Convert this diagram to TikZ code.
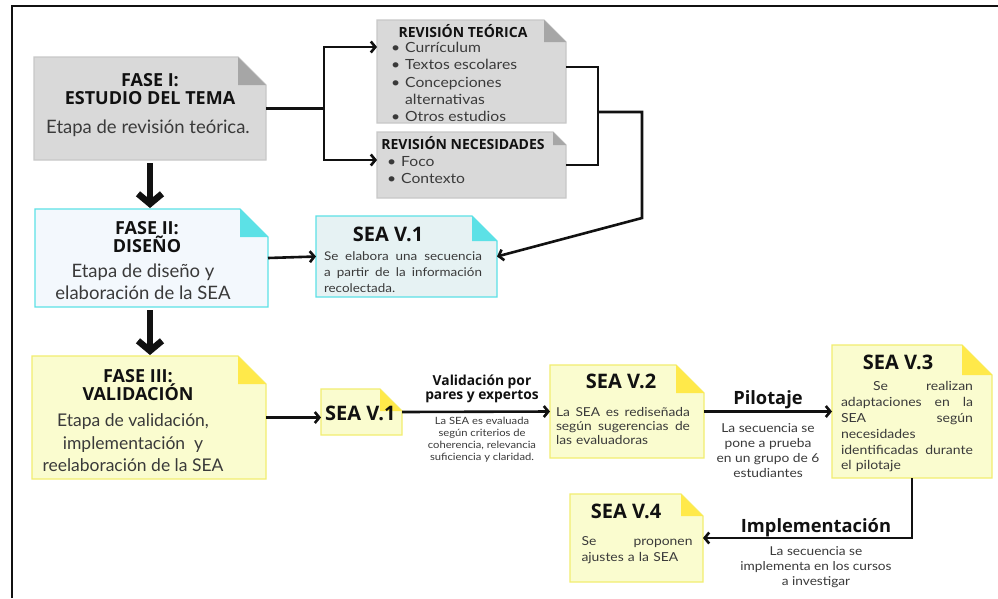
\documentclass[tikz,border=0pt]{standalone}
\usepackage{fontspec}
\setmainfont{Lato}
\newfontfamily\hfont{Open Sans}
\newfontfamily\wfont{Lato}[FakeStretch=1.12]
\usetikzlibrary{arrows.meta}

\definecolor{gfill}{HTML}{D9D9D9}
\definecolor{gfold}{HTML}{A6A6A6}
\definecolor{gline}{HTML}{C8C8C8}
\definecolor{bfill}{HTML}{F3F8FD}
\definecolor{bfillb}{HTML}{E6F2F3}
\definecolor{bline}{HTML}{5CE1E6}
\definecolor{bfold}{HTML}{5CE1E6}
\definecolor{yfill}{HTML}{FAFCCF}
\definecolor{yline}{HTML}{F2EE70}
\definecolor{yfold}{HTML}{FFE94A}
\definecolor{txt}{HTML}{3A3A3A}
\definecolor{ink}{HTML}{111111}

% name, x1, y1, x2, y2, fold, fill, line, fold colour
\newcommand\dogear[9]{%
  \node[inner sep=0pt, outer sep=0pt, minimum width={#4pt-#2pt},
        minimum height={#5pt-#3pt}, anchor=north west] (#1) at (#2,#3) {};
  \filldraw[fill=#7, draw=#8, line width=1.2pt, line join=miter]
    (#1.south west) -- (#1.north west) -- ([xshift=-#6pt]#1.north east)
    -- ([yshift=-#6pt]#1.north east) -- (#1.south east) -- cycle;
  \fill[#9] ([xshift=-#6pt]#1.north east) -- ([yshift=-#6pt]#1.north east)
    -- ([xshift=-#6pt,yshift=-#6pt]#1.north east) -- cycle;
}
% justified line of given width (words separated by \hfill)
\newcommand\jl[2]{\makebox[#1][l]{#2}\\}

\begin{document}
\begin{tikzpicture}[x=1pt,y=-1pt,
  ttl/.style={font=\hfont\bfseries\fontsize{18}{18}\selectfont, align=center, inner sep=0pt, text=ink},
  bigbody/.style={font=\fontsize{18.5}{22}\selectfont, align=center, inner sep=0pt, text=txt},
  hdr/.style={font=\hfont\bfseries\fontsize{14}{14}\selectfont, inner sep=0pt, text=ink},
  lst/.style={font=\wfont\fontsize{14}{17.2}\selectfont, align=left, inner sep=0pt, text=txt, anchor=west},
  seattl/.style={font=\hfont\bfseries\fontsize{20}{20}\selectfont, inner sep=0pt, text=ink},
  small/.style={align=left, inner sep=0pt, text=txt},
  lbl/.style={font=\hfont\bfseries\fontsize{13.8}{13.5}\selectfont, align=center, inner sep=0pt, text=ink},
  biglbl/.style={font=\hfont\bfseries\fontsize{18.3}{18}\selectfont, inner sep=0pt, text=ink},
  tiny/.style={font=\wfont\fontsize{10}{11.9}\selectfont, align=center, inner sep=0pt, text=txt},
  mid/.style={align=center, inner sep=0pt, text=txt},
  conn/.style={line width=2.6pt, draw=ink, -{Straight Barb[length=4.5pt,width=11pt]}},
  plain/.style={line width=2.6pt, draw=ink},
  big/.style={line width=6.5pt, draw=ink, -{Straight Barb[length=10pt,width=24pt]}}
]
\useasboundingbox (0,0) rectangle (998,598);
\fill[white] (0,0) rectangle (998,598);

% frame
\draw[line width=2pt, draw=ink] (12,598) -- (12,6) -- (998,6);

% boxes
\dogear{f1}{34}{57}{266}{160}{28}{gfill}{gline}{gfold}
\dogear{rt}{377}{20}{566}{123}{22}{gfill}{gline}{gfold}
\dogear{rn}{377}{132}{566}{198}{13}{gfill}{gline}{gfold}
\dogear{f2}{35}{209}{268}{307}{28}{bfill}{bline}{bfold}
\dogear{s1}{316}{216}{497}{297}{25}{bfillb}{bline}{bfold}
\dogear{f3}{32}{356}{266}{479}{28}{yfill}{yline}{yfold}
\dogear{s1b}{321}{389}{402}{435}{22}{yfill}{yline}{yfold}
\dogear{s2}{550}{365}{704}{458}{28}{yfill}{yline}{yfold}
\dogear{s3}{832}{345}{992}{478}{30}{yfill}{yline}{yfold}
\dogear{s4}{570}{494}{703}{582}{22}{yfill}{yline}{yfold}

% texts: FASE I
\node[ttl] (f1t) at (150,89) {FASE I:\\ESTUDIO DEL TEMA};
\node[bigbody] (f1b) at (148,128) {Etapa de revisión teórica.};
% revision teorica
\node[hdr] (rth) at (463,31) {REVISIÓN TEÓRICA};
\node[lst] (rtl) at (391,82) {\makebox[14pt][l]{\textbullet}Currículum\\
  \makebox[14pt][l]{\textbullet}Textos escolares\\
  \makebox[14pt][l]{\textbullet}Concepciones\\
  \makebox[14pt][l]{}alternativas\\
  \makebox[14pt][l]{\textbullet}Otros estudios};
% revision necesidades
\node[hdr] (rnh) at (463,143) {REVISIÓN NECESIDADES};
\node[lst] (rnl) at (387,170) {\makebox[14pt][l]{\textbullet}Foco\\
  \makebox[14pt][l]{\textbullet}Contexto};
% FASE II
\node[ttl] (f2t) at (147,237) {FASE II:\\DISEÑO};
\node[bigbody] (f2b) at (143,282) {Etapa de diseño y\\elaboración de la SEA};
% SEA V.1 (top)
\node[seattl] (s1t) at (388,234) {SEA V.1};
\node[small, text width=158pt, font=\wfont\fontsize{12}{16}\selectfont] (s1x) at (403,272)
  {\jl{158pt}{Se\hfill elabora\hfill una\hfill secuencia}\jl{158pt}{a\hfill partir\hfill de\hfill la\hfill información}recolectada.};
% FASE III
\node[ttl] (f3t) at (138,385) {FASE III:\\VALIDACIÓN};
\node[bigbody, font=\fontsize{17.5}{22.5}\selectfont] (f3b) at (133,443) {Etapa de validación,\\implementación~~y\\reelaboración de la SEA};
% SEA V.1 (b)
\node[seattl, anchor=west] (s1bt) at (325,413) {SEA V.1};
% Validacion
\node[lbl] (vl) at (482,389) {Validación por\\pares y expertos};
\node[tiny] (vt) at (482,440) {La SEA es evaluada\\según criterios de\\coherencia, relevancia\\suficiencia y claridad.};
% SEA V.2
\node[seattl] (s2t) at (621,381) {SEA V.2};
\node[small, text width=134pt, font=\wfont\fontsize{12.3}{14.3}\selectfont] (s2x) at (623,426)
  {\jl{134pt}{La\hfill SEA\hfill es\hfill rediseñada}\jl{134pt}{según\hfill sugerencias\hfill de}las evaluadoras};
% Pilotaje
\node[biglbl] (pl) at (768,400) {Pilotaje};
\node[mid, font=\wfont\fontsize{12.3}{15}\selectfont] (pt) at (768,451) {La secuencia se\\pone a prueba\\en un grupo de 6\\estudiantes};
% SEA V.3
\node[seattl] (s3t) at (898,362) {SEA V.3};
\node[small, text width=132pt, font=\wfont\fontsize{12.5}{15.8}\selectfont] (s3x) at (907,427)
  {\jl{132pt}{\hspace*{32pt}Se\hfill realizan}\jl{132pt}{adaptaciones\hfill en\hfill la}\jl{132pt}{SEA\hfill según}necesidades\\
   \jl{132pt}{identificadas\hfill durante}el pilotaje};
% Implementacion
\node[biglbl] (il) at (816,528) {Implementación};
\node[mid, font=\wfont\fontsize{12.2}{15}\selectfont] (it) at (816,567) {La secuencia se\\implementa en los cursos\\a investigar};
% SEA V.4
\node[seattl] (s4t) at (626,511) {SEA V.4};
\node[small, text width=111pt, font=\wfont\fontsize{12.4}{15.7}\selectfont] (s4x) at (637,550)
  {\jl{111pt}{Se\hfill proponen}ajustes a la SEA};

% helper coordinates
\coordinate (xa) at (324,0);
\coordinate (xb) at (598,0);
\coordinate (xc) at (642,0);
\coordinate (xm) at (150,0);
\coordinate (y47) at (0,47);
\coordinate (y67) at (0,67);
\coordinate (y112) at (0,112);
\coordinate (y160) at (0,160);
\coordinate (y218) at (0,218);
\coordinate (j1) at (f1.east -| xa);
\coordinate (j2) at (xb |- y112);

% connectors
\draw[plain] (f1.east) -- (j1);
\draw[conn] (j1) |- (rt.west |- y47);
\draw[conn] (j1) |- (rn.west |- y160);
\draw[plain] (rt.east |- y67) -| (xb |- rn.east) -- (rn.east);
\draw[conn] (j2) -| (xc |- y218) -- (s1.east);
\draw[conn] (f2.east) -- (s1.west);
\draw[big, shorten <=3pt, shorten >=1pt] (f1.south -| xm) -- (f2.north -| xm);
\draw[big, shorten <=3pt, shorten >=1pt] (f2.south -| xm) -- (f3.north -| xm);
\draw[conn] (f3.east) -- (f3.east -| s1b.west);
\draw[conn] (s1b.east) -- (s2.west);
\draw[conn] (s2.east) -- (s3.west);
\draw[conn] (s3.south) |- (s4.east);
\end{tikzpicture}
\end{document}
